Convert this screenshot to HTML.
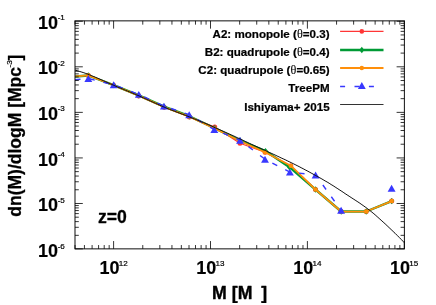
<!DOCTYPE html>
<html><head><meta charset="utf-8"><title>plot</title><style>html,body{margin:0;padding:0;background:#fff}body{width:436px;height:305px;overflow:hidden;position:relative}</style></head><body>
<svg width="436" height="305" viewBox="0 0 436 305" style="position:absolute;left:0;top:0;font-family:'Liberation Sans',sans-serif;font-weight:bold">
<rect width="436" height="305" fill="#fff"/>
<defs><clipPath id="c"><rect x="75.0" y="20.85" width="329.4" height="228.0"/></clipPath><filter id="g" filterUnits="userSpaceOnUse" x="0" y="0" width="436" height="305"><feOffset dx="0" dy="0"/></filter></defs>
<g clip-path="url(#c)" fill="none" stroke-linejoin="round">
<polyline points="75.0,76.5 88.3,75.4 113.6,85.4 138.8,95.9 164.1,107.2 189.4,116.9 214.7,127.1 240.0,143.3 265.1,152.2 290.8,165.9 315.5,189.5 341.2,211.5 366.2,211.5 391.7,201.1" stroke="#ff3535" stroke-width="1.2"/><circle cx="88.3" cy="75.4" r="2.5" fill="#ff3535"/><circle cx="113.6" cy="85.4" r="2.5" fill="#ff3535"/><circle cx="138.8" cy="95.9" r="2.5" fill="#ff3535"/><circle cx="164.1" cy="107.2" r="2.5" fill="#ff3535"/><circle cx="189.4" cy="116.9" r="2.5" fill="#ff3535"/><circle cx="214.7" cy="127.1" r="2.5" fill="#ff3535"/><circle cx="240.0" cy="143.3" r="2.5" fill="#ff3535"/><circle cx="265.1" cy="152.2" r="2.5" fill="#ff3535"/><circle cx="290.8" cy="165.9" r="2.5" fill="#ff3535"/><circle cx="315.5" cy="189.5" r="2.5" fill="#ff3535"/><circle cx="341.2" cy="211.5" r="2.5" fill="#ff3535"/><circle cx="366.2" cy="211.5" r="2.5" fill="#ff3535"/><circle cx="391.7" cy="201.1" r="2.5" fill="#ff3535"/>
<polyline points="75.0,76.5 88.3,75.5 113.6,85.1 138.8,95.4 164.1,106.6 189.4,116.2 214.7,128.3 240.0,140.5 265.5,151.1 289.5,167.2 315.5,189.5 341.2,211.5 366.2,211.5 391.7,201.1" stroke="#009a35" stroke-width="2.35"/><path d="M85.80 75.55L88.30 72.35L90.80 75.55L88.30 78.75Z" fill="#009a35"/><path d="M111.10 85.10L113.60 81.90L116.10 85.10L113.60 88.30Z" fill="#009a35"/><path d="M136.30 95.40L138.80 92.20L141.30 95.40L138.80 98.60Z" fill="#009a35"/><path d="M161.60 106.60L164.10 103.40L166.60 106.60L164.10 109.80Z" fill="#009a35"/><path d="M186.90 116.20L189.40 113.00L191.90 116.20L189.40 119.40Z" fill="#009a35"/><path d="M212.20 128.30L214.70 125.10L217.20 128.30L214.70 131.50Z" fill="#009a35"/><path d="M237.50 140.50L240.00 137.30L242.50 140.50L240.00 143.70Z" fill="#009a35"/><path d="M263.00 151.10L265.50 147.90L268.00 151.10L265.50 154.30Z" fill="#009a35"/><path d="M287.00 167.20L289.50 164.00L292.00 167.20L289.50 170.40Z" fill="#009a35"/><path d="M313.00 189.50L315.50 186.30L318.00 189.50L315.50 192.70Z" fill="#009a35"/><path d="M338.70 211.50L341.20 208.30L343.70 211.50L341.20 214.70Z" fill="#009a35"/><path d="M363.70 211.50L366.20 208.30L368.70 211.50L366.20 214.70Z" fill="#009a35"/><path d="M389.20 201.10L391.70 197.90L394.20 201.10L391.70 204.30Z" fill="#009a35"/>
<polyline points="75.0,76.4 88.3,75.4 113.6,85.3 138.8,95.6 164.1,107.0 189.4,116.6 214.7,128.5 240.0,141.0 265.1,152.2 290.8,165.7 315.5,189.5 341.2,211.5 366.2,211.5 391.7,201.1" stroke="#ff8f0a" stroke-width="1.75"/><circle cx="88.3" cy="75.4" r="2.25" fill="#ff8f0a"/><circle cx="113.6" cy="85.3" r="2.25" fill="#ff8f0a"/><circle cx="138.8" cy="95.6" r="2.25" fill="#ff8f0a"/><circle cx="164.1" cy="107.0" r="2.25" fill="#ff8f0a"/><circle cx="189.4" cy="116.6" r="2.25" fill="#ff8f0a"/><circle cx="214.7" cy="128.5" r="2.25" fill="#ff8f0a"/><circle cx="240.0" cy="141.0" r="2.25" fill="#ff8f0a"/><circle cx="265.1" cy="152.2" r="2.25" fill="#ff8f0a"/><circle cx="290.8" cy="165.7" r="2.25" fill="#ff8f0a"/><circle cx="315.5" cy="189.5" r="2.25" fill="#ff8f0a"/><circle cx="341.2" cy="211.5" r="2.25" fill="#ff8f0a"/><circle cx="366.2" cy="211.5" r="2.25" fill="#ff8f0a"/><circle cx="391.7" cy="201.1" r="2.25" fill="#ff8f0a"/>
<polyline points="75.0,79.8 88.3,78.5 113.7,84.7 138.8,94.4 163.9,106.1 189.2,114.7 214.3,129.6 240.0,140.2 265.0,159.2 289.9,172.1 315.6,175.0 341.1,210.3" stroke="#3838ff" stroke-width="1.4" stroke-dasharray="5.5 9"/>
<path d="M84.35 81.95L92.25 81.95L88.30 75.05Z" fill="#3838ff"/><path d="M109.75 88.15L117.65 88.15L113.70 81.25Z" fill="#3838ff"/><path d="M134.85 97.85L142.75 97.85L138.80 90.95Z" fill="#3838ff"/><path d="M159.95 109.55L167.85 109.55L163.90 102.65Z" fill="#3838ff"/><path d="M185.25 118.15L193.15 118.15L189.20 111.25Z" fill="#3838ff"/><path d="M210.35 133.05L218.25 133.05L214.30 126.15Z" fill="#3838ff"/><path d="M236.05 143.65L243.95 143.65L240.00 136.75Z" fill="#3838ff"/><path d="M261.05 162.65L268.95 162.65L265.00 155.75Z" fill="#3838ff"/><path d="M285.95 175.55L293.85 175.55L289.90 168.65Z" fill="#3838ff"/><path d="M311.65 178.45L319.55 178.45L315.60 171.55Z" fill="#3838ff"/><path d="M337.15 213.75L345.05 213.75L341.10 206.85Z" fill="#3838ff"/><path d="M387.65 191.75L395.55 191.75L391.60 184.85Z" fill="#3838ff"/>
<polyline points="75.1,70.2 77.1,70.7 79.1,71.3 81.1,71.9 83.1,72.5 85.1,73.2 87.1,73.9 89.1,74.7 91.1,75.5 93.1,76.3 95.1,77.1 97.1,78.0 99.1,78.9 101.1,79.7 103.1,80.6 105.1,81.5 107.1,82.4 109.1,83.3 111.1,84.2 113.1,85.0 115.1,85.9 117.1,86.8 119.1,87.6 121.1,88.4 123.1,89.2 125.1,90.1 127.1,90.9 129.1,91.7 131.1,92.5 133.1,93.4 135.1,94.2 137.1,95.1 139.1,95.9 141.1,96.8 143.1,97.7 145.1,98.6 147.1,99.5 149.1,100.4 151.1,101.3 153.1,102.2 155.1,103.1 157.1,104.0 159.1,104.9 161.1,105.8 163.1,106.6 165.1,107.5 167.1,108.3 169.1,109.1 171.1,109.9 173.1,110.6 175.1,111.4 177.1,112.2 179.1,112.9 181.1,113.7 183.1,114.4 185.1,115.2 187.1,116.0 189.1,116.8 191.1,117.6 193.1,118.4 195.1,119.2 197.1,120.0 199.1,120.8 201.1,121.7 203.1,122.5 205.1,123.3 207.1,124.2 209.1,125.1 211.1,125.9 213.1,126.8 215.1,127.7 217.1,128.6 219.1,129.4 221.1,130.3 223.1,131.2 225.1,132.1 227.1,133.0 229.1,133.9 231.1,134.8 233.1,135.7 235.1,136.6 237.1,137.6 239.1,138.5 241.1,139.4 243.1,140.3 245.1,141.3 247.1,142.2 249.1,143.2 251.1,144.1 253.1,145.0 255.1,145.9 257.1,146.8 259.1,147.7 261.1,148.6 263.1,149.5 265.1,150.4 267.1,151.4 269.1,152.3 271.1,153.2 273.1,154.1 275.1,155.0 277.1,156.0 279.1,156.9 281.1,157.9 283.1,158.8 285.1,159.7 287.1,160.7 289.1,161.7 291.1,162.6 293.1,163.6 295.1,164.6 297.1,165.6 299.1,166.6 301.1,167.7 303.1,168.7 305.1,169.8 307.1,170.8 309.1,171.9 311.1,173.0 313.1,174.1 315.1,175.2 317.1,176.3 319.1,177.4 321.1,178.5 323.1,179.7 325.1,180.9 327.1,182.0 329.1,183.2 331.1,184.5 333.1,185.7 335.1,187.0 337.1,188.3 339.1,189.6 341.1,190.9 343.1,192.2 345.1,193.6 347.1,194.9 349.1,196.2 351.1,197.5 353.1,198.8 355.1,200.1 357.1,201.4 359.1,202.7 361.1,204.1 363.1,205.5 365.1,206.9 367.1,208.4 369.1,209.9 371.1,211.5 373.1,213.1 375.1,214.8 377.1,216.6 379.1,218.4 381.1,220.2 383.1,222.0 385.1,223.8 387.1,225.7 389.1,227.6 391.1,229.5 393.1,231.4 395.1,233.3 397.1,235.3 399.1,237.3 401.1,239.3 403.1,241.4 404.4,242.8" stroke="#111" stroke-width="1"/>
</g>
<rect x="75.0" y="20.85" width="329.4" height="228.0" fill="none" stroke="#1a1a1a" stroke-width="1.05"/>
<path d="M75.04 248.85v-3.8M75.04 20.85v3.8M84.43 248.85v-3.8M84.43 20.85v3.8M92.10 248.85v-3.8M92.10 20.85v3.8M98.59 248.85v-3.8M98.59 20.85v3.8M104.21 248.85v-3.8M104.21 20.85v3.8M109.17 248.85v-3.8M109.17 20.85v3.8M113.60 248.85v-7.8M113.60 20.85v7.8M142.77 248.85v-3.8M142.77 20.85v3.8M159.83 248.85v-3.8M159.83 20.85v3.8M171.94 248.85v-3.8M171.94 20.85v3.8M181.33 248.85v-3.8M181.33 20.85v3.8M189.00 248.85v-3.8M189.00 20.85v3.8M195.49 248.85v-3.8M195.49 20.85v3.8M201.11 248.85v-3.8M201.11 20.85v3.8M206.07 248.85v-3.8M206.07 20.85v3.8M210.50 248.85v-7.8M210.50 20.85v7.8M239.67 248.85v-3.8M239.67 20.85v3.8M256.73 248.85v-3.8M256.73 20.85v3.8M268.84 248.85v-3.8M268.84 20.85v3.8M278.23 248.85v-3.8M278.23 20.85v3.8M285.90 248.85v-3.8M285.90 20.85v3.8M292.39 248.85v-3.8M292.39 20.85v3.8M298.01 248.85v-3.8M298.01 20.85v3.8M302.97 248.85v-3.8M302.97 20.85v3.8M307.40 248.85v-7.8M307.40 20.85v7.8M336.57 248.85v-3.8M336.57 20.85v3.8M353.63 248.85v-3.8M353.63 20.85v3.8M365.74 248.85v-3.8M365.74 20.85v3.8M375.13 248.85v-3.8M375.13 20.85v3.8M382.80 248.85v-3.8M382.80 20.85v3.8M389.29 248.85v-3.8M389.29 20.85v3.8M394.91 248.85v-3.8M394.91 20.85v3.8M399.87 248.85v-3.8M399.87 20.85v3.8M404.30 248.85v-7.8M404.30 20.85v7.8M75.0 248.85h7.8M404.4 248.85h-7.8M75.0 235.34h3.8M404.4 235.34h-3.8M75.0 227.31h3.8M404.4 227.31h-3.8M75.0 221.62h3.8M404.4 221.62h-3.8M75.0 217.20h3.8M404.4 217.20h-3.8M75.0 213.60h3.8M404.4 213.60h-3.8M75.0 210.55h3.8M404.4 210.55h-3.8M75.0 207.91h3.8M404.4 207.91h-3.8M75.0 205.57h3.8M404.4 205.57h-3.8M75.0 203.49h7.8M404.4 203.49h-7.8M75.0 189.78h3.8M404.4 189.78h-3.8M75.0 181.75h3.8M404.4 181.75h-3.8M75.0 176.06h3.8M404.4 176.06h-3.8M75.0 171.64h3.8M404.4 171.64h-3.8M75.0 168.04h3.8M404.4 168.04h-3.8M75.0 164.99h3.8M404.4 164.99h-3.8M75.0 162.35h3.8M404.4 162.35h-3.8M75.0 160.01h3.8M404.4 160.01h-3.8M75.0 157.93h7.8M404.4 157.93h-7.8M75.0 144.22h3.8M404.4 144.22h-3.8M75.0 136.19h3.8M404.4 136.19h-3.8M75.0 130.50h3.8M404.4 130.50h-3.8M75.0 126.08h3.8M404.4 126.08h-3.8M75.0 122.48h3.8M404.4 122.48h-3.8M75.0 119.43h3.8M404.4 119.43h-3.8M75.0 116.79h3.8M404.4 116.79h-3.8M75.0 114.45h3.8M404.4 114.45h-3.8M75.0 112.37h7.8M404.4 112.37h-7.8M75.0 98.66h3.8M404.4 98.66h-3.8M75.0 90.63h3.8M404.4 90.63h-3.8M75.0 84.94h3.8M404.4 84.94h-3.8M75.0 80.52h3.8M404.4 80.52h-3.8M75.0 76.92h3.8M404.4 76.92h-3.8M75.0 73.87h3.8M404.4 73.87h-3.8M75.0 71.23h3.8M404.4 71.23h-3.8M75.0 68.89h3.8M404.4 68.89h-3.8M75.0 66.81h7.8M404.4 66.81h-7.8M75.0 53.10h3.8M404.4 53.10h-3.8M75.0 45.07h3.8M404.4 45.07h-3.8M75.0 39.38h3.8M404.4 39.38h-3.8M75.0 34.96h3.8M404.4 34.96h-3.8M75.0 31.36h3.8M404.4 31.36h-3.8M75.0 28.31h3.8M404.4 28.31h-3.8M75.0 25.67h3.8M404.4 25.67h-3.8M75.0 23.33h3.8M404.4 23.33h-3.8M75.0 21.25h7.8M404.4 21.25h-7.8" stroke="#000" stroke-width="0.8" fill="none"/>
<path d="M340.1 31.4H383.5" stroke="#ff3535" stroke-width="1.2"/><circle cx="361.8" cy="31.4" r="2.3" fill="#ff3535"/>
<path d="M340.1 50.0H383.5" stroke="#009a35" stroke-width="2.35"/><path d="M359.30 50.00L361.80 46.80L364.30 50.00L361.80 53.20Z" fill="#009a35"/>
<path d="M340.1 68.0H383.5" stroke="#ff8f0a" stroke-width="1.8"/><circle cx="361.8" cy="68.0" r="2.2" fill="#ff8f0a"/>
<path d="M340.1 86.4H382.9" stroke="#3838ff" stroke-width="1.5" stroke-dasharray="5 9.4"/><path d="M357.85 88.95L365.75 88.95L361.80 82.05Z" fill="#3838ff"/>
<path d="M340.1 104.5H383.5" stroke="#333" stroke-width="1"/>
<g filter="url(#g)" stroke="#000" stroke-width="0.28" stroke-linejoin="round">
<text x="329.6" y="37.9" font-size="11.6" stroke-width="0.22" text-anchor="end">A2: monopole (<tspan font-family="Liberation Serif" font-weight="normal" stroke-width="0.1" font-size="12.2" dx="0.1">θ</tspan>=0.3)</text>
<text x="329.6" y="55.9" font-size="11.6" stroke-width="0.22" text-anchor="end">B2: quadrupole (<tspan font-family="Liberation Serif" font-weight="normal" stroke-width="0.1" font-size="12.2" dx="0.1">θ</tspan>=0.4)</text>
<text x="329.6" y="74.0" font-size="11.6" stroke-width="0.22" text-anchor="end">C2: quadrupole (<tspan font-family="Liberation Serif" font-weight="normal" stroke-width="0.1" font-size="12.2" dx="0.1">θ</tspan>=0.65)</text>
<text x="329.6" y="92.3" font-size="11.6" stroke-width="0.22" text-anchor="end">TreePM</text>
<text x="329.6" y="110.5" font-size="11.6" stroke-width="0.22" text-anchor="end">Ishiyama+ 2015</text>
<text x="38.1" y="28.5" font-size="18" stroke-width="0.15">10<tspan font-size="8.1" font-weight="normal" stroke="#000" stroke-width="0.2" dy="-8.7" dx="-0.5">-1</tspan></text>
<text x="38.1" y="74.2" font-size="18" stroke-width="0.15">10<tspan font-size="8.1" font-weight="normal" stroke="#000" stroke-width="0.2" dy="-8.7" dx="-0.5">-2</tspan></text>
<text x="38.1" y="120.0" font-size="18" stroke-width="0.15">10<tspan font-size="8.1" font-weight="normal" stroke="#000" stroke-width="0.2" dy="-8.7" dx="-0.5">-3</tspan></text>
<text x="38.1" y="165.7" font-size="18" stroke-width="0.15">10<tspan font-size="8.1" font-weight="normal" stroke="#000" stroke-width="0.2" dy="-8.7" dx="-0.5">-4</tspan></text>
<text x="38.1" y="211.4" font-size="18" stroke-width="0.15">10<tspan font-size="8.1" font-weight="normal" stroke="#000" stroke-width="0.2" dy="-8.7" dx="-0.5">-5</tspan></text>
<text x="38.1" y="257.2" font-size="18" stroke-width="0.15">10<tspan font-size="8.1" font-weight="normal" stroke="#000" stroke-width="0.2" dy="-8.7" dx="-0.5">-6</tspan></text>
<text x="99.4" y="274.3" font-size="18" stroke-width="0.15">10<tspan font-size="8.1" font-weight="normal" stroke="#000" stroke-width="0.2" dy="-8.7" dx="-0.8">12</tspan></text>
<text x="196.3" y="274.3" font-size="18" stroke-width="0.15">10<tspan font-size="8.1" font-weight="normal" stroke="#000" stroke-width="0.2" dy="-8.7" dx="-0.8">13</tspan></text>
<text x="293.2" y="274.3" font-size="18" stroke-width="0.15">10<tspan font-size="8.1" font-weight="normal" stroke="#000" stroke-width="0.2" dy="-8.7" dx="-0.8">14</tspan></text>
<text x="390.1" y="274.3" font-size="18" stroke-width="0.15">10<tspan font-size="8.1" font-weight="normal" stroke="#000" stroke-width="0.2" dy="-8.7" dx="-0.8">15</tspan></text>
<text x="97.9" y="223.3" font-size="17.6">z=0</text>
<text x="212.1" y="298.5" font-size="17.7" stroke-width="0.4">M [M<tspan dx="8.8">]</tspan></text>
<text transform="translate(21.3 216.7) rotate(-90)" font-size="17.5">dn(M)/dlogM [Mpc<tspan font-size="8.1" font-weight="normal" stroke="#000" stroke-width="0.2" dy="-9.3" dx="-0.5">-3</tspan><tspan dy="9.3" dx="-0.2">]</tspan></text>
</g>
</svg>
</body></html>
